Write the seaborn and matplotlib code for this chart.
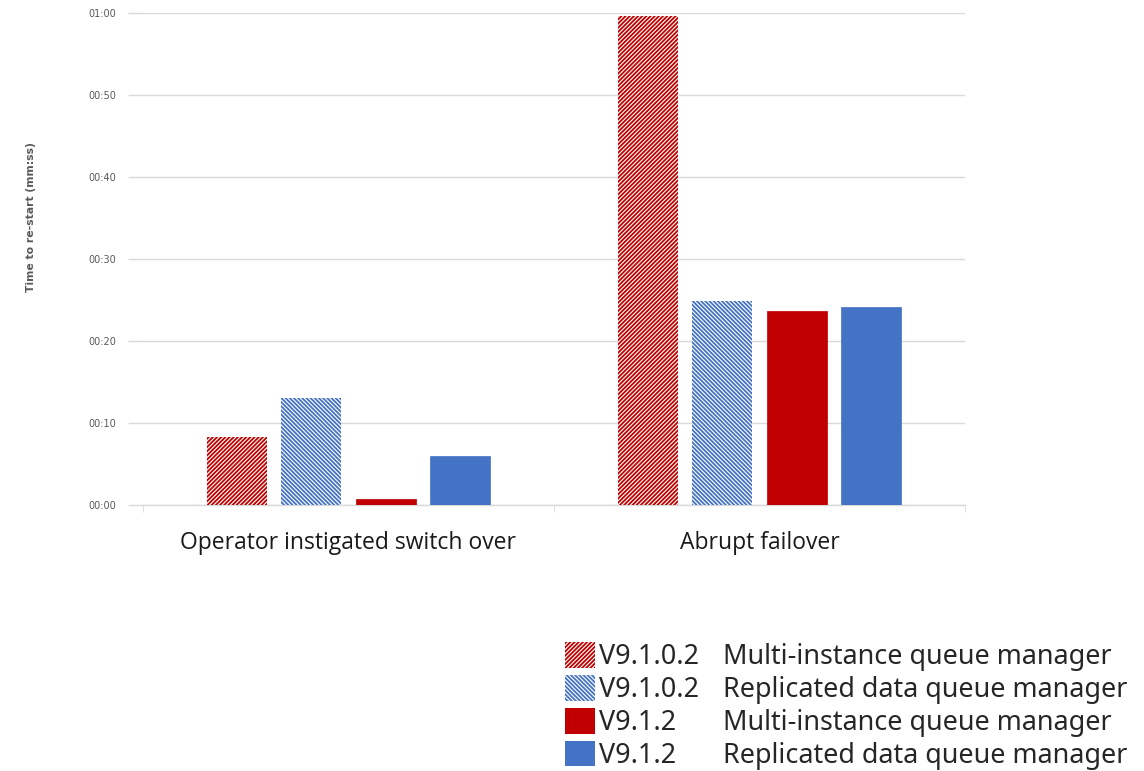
import pandas as pd
import seaborn as sns
import numpy as np
import matplotlib.pyplot as plt
from matplotlib.patches import Patch
from matplotlib.ticker import FuncFormatter, FixedLocator

# data (seconds)
scenarios = ["Operator instigated switch over", "Abrupt failover"]
versions = ["V9.1.0.2", "V9.1.0.2", "V9.1.2", "V9.1.2"]
kinds = ["Multi-instance queue manager", "Replicated data queue manager",
         "Multi-instance queue manager", "Replicated data queue manager"]
mi_9102 = [8.3, 59.6]
rd_9102 = [13.0, 24.9]
mi_912 = [0.7, 23.7]
rd_912 = [6.0, 24.1]

series = [mi_9102, rd_9102, mi_912, rd_912]
series_names = [v + " " + k for v, k in zip(versions, kinds)]
rows = []
for name, vals in zip(series_names, series):
    for sc, v in zip(scenarios, vals):
        rows.append({"scenario": sc, "series": name, "seconds": v})
df = pd.DataFrame(rows)

red = "#C00000"
blue = "#4472C4"
colors = [red, blue, red, blue]
hatches = ["////////", "\\\\\\\\\\\\\\\\", None, None]
grid_grey = "#D9D9D9"
text_grey = "#595959"

sns.set_style("white")
plt.rcParams["hatch.linewidth"] = 1.3
fig = plt.figure(figsize=(11.44, 7.71), dpi=100)
ax = fig.add_axes([143 / 1144, 1 - 505 / 771, 822 / 1144, 492 / 771])

sns.barplot(data=df, x="scenario", y="seconds", hue="series", hue_order=series_names,
            palette=colors, width=0.725, gap=0.2, ax=ax, legend=False, zorder=3)

for cont, col, h in zip(ax.containers, colors, hatches):
    for bar in cont:
        if h:
            bar.set_facecolor("white")
            bar.set_edgecolor(col)
            bar.set_hatch(h)
            bar.set_linewidth(0)
        else:
            bar.set_facecolor(col)
            bar.set_edgecolor(col)
            bar.set_linewidth(0.5)

ax.set_ylim(0, 60)
ax.set_xlim(-0.5, 1.5)
ax.yaxis.set_major_locator(FixedLocator([0, 10, 20, 30, 40, 50, 60]))
ax.yaxis.set_major_formatter(FuncFormatter(lambda v, p: "%02d:%02d" % (int(v) // 60, int(v) % 60)))
ax.grid(axis="y", color=grid_grey, linewidth=1, zorder=0)
for s in ["top", "right", "left"]:
    ax.spines[s].set_visible(False)
ax.spines["bottom"].set_color(grid_grey)
ax.spines["bottom"].set_linewidth(1)

ax.tick_params(axis="y", length=11, color=grid_grey, width=1, labelsize=7,
               labelcolor=text_grey, pad=8, left=True)
ax.tick_params(axis="x", which="major", length=0, labelsize=16.5, pad=19, labelcolor="#1a1a1a")
ax.set_xticks([-0.5, 0.5, 1.5], minor=True)
ax.tick_params(axis="x", which="minor", length=5, color=grid_grey, bottom=True)
for lab in ax.get_xticklabels():
    lab.set_fontfamily("Open Sans")
ax.set_xlabel("")
ax.set_ylabel("Time to re-start (mm:ss)", fontsize=7.8, fontweight="bold", color=text_grey)
ax.yaxis.set_label_coords(-0.13, 0.585)

# legend: patches + version, descriptions in a second aligned column
handles = []
for col, h in zip(colors, hatches):
    if h:
        handles.append(Patch(facecolor="white", edgecolor=col, hatch=h, linewidth=0))
    else:
        handles.append(Patch(facecolor=col, edgecolor=col, linewidth=0))
leg = fig.legend(handles, versions, loc="upper left", bbox_to_anchor=(565 / 1144, 1 - 642 / 771),
                 frameon=False, borderpad=0, borderaxespad=0, handlelength=1.1,
                 handleheight=1.1, handletextpad=0.15, labelspacing=0.14,
                 prop={"family": "Noto Sans", "size": 19.4})
fig.canvas.draw()
renderer = fig.canvas.get_renderer()
inv = fig.transFigure.inverted()
for t, k in zip(leg.get_texts(), kinds):
    bb = t.get_window_extent(renderer)
    yc = inv.transform(((bb.x0 + bb.x1) / 2, (bb.y0 + bb.y1) / 2))[1]
    fig.text(723 / 1144, yc, k, family="Noto Sans", fontsize=19.4, va="center", ha="left")

plt.savefig("out.png", dpi=100)
